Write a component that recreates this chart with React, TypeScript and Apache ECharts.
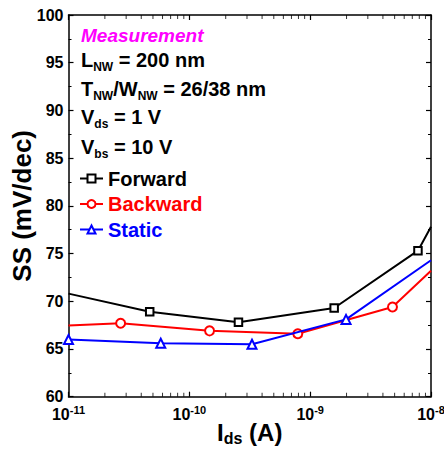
import React, { useEffect, useRef } from "react";
import * as echarts from "echarts";

const FONT = "'Liberation Sans', Arial, Helvetica, sans-serif";

const FORWARD_X = [1e-11, 4.7e-11, 2.55e-10, 1.58e-9, 7.8e-9, 1e-8];
const FORWARD_Y = [70.8, 68.9, 67.8, 69.3, 75.3, 77.8];
const BACKWARD_X = [1e-11, 2.7e-11, 1.47e-10, 7.9e-10, 4.8e-9, 1e-8];
const BACKWARD_Y = [67.45, 67.7, 66.9, 66.6, 69.4, 73.2];
const STATIC_X = [1e-11, 5.8e-11, 3.3e-10, 1.98e-9, 1e-8];
const STATIC_Y = [66.0, 65.6, 65.5, 68.1, 74.3];

// Indices of points drawn without a marker (line ends at the frame)
const FORWARD_NOMARK = [0, 5];
const BACKWARD_NOMARK = [0, 5];
const STATIC_NOMARK = [4];

const X_MIN_EXP = -11;
const X_MAX_EXP = -8;
const Y_MIN = 60;
const Y_MAX = 100;
const Y_STEP = 5;

const SERIES_NAMES = ["Forward", "Backward", "Static"];
const SERIES_COLORS = ["#000000", "#FF0000", "#0000FF"];
const SERIES_SYMBOLS = ["emptyRect", "emptyCircle", "emptyTriangle"];

const INFO_LINES = [
  "{b|L}{s|NW}{b| = 200 nm}",
  "{b|T}{s|NW}{b|/W}{s|NW}{b| = 26/38 nm}",
  "{b|V}{s|ds}{b| = 1 V}",
  "{b|V}{s|bs}{b| = 10 V}",
];
const INFO_TOPS = [50, 78.5, 107, 137];

function build(xs: number[], ys: number[], noMark: number[]) {
  return xs.map((x, i) =>
    noMark.indexOf(i) >= 0 ? { value: [x, ys[i]], symbol: "none" } : { value: [x, ys[i]] }
  );
}

// log-axis minor tick positions (2..9 x 10^n)
const minorTickX: number[] = [];
for (let n = X_MIN_EXP; n < X_MAX_EXP; n++) {
  for (let k = 2; k <= 9; k++) minorTickX.push(k * Math.pow(10, n));
}

export default function App() {
  const ref = useRef<HTMLDivElement>(null);
  useEffect(() => {
    if (!ref.current) return;
    const chart = echarts.init(ref.current, undefined, { renderer: "svg" });
    const axisLine = { show: true, lineStyle: { color: "#000", width: 1.5 } };
    const rich = {
      b: { fontSize: 20, fontWeight: "bold", fontFamily: FONT, lineHeight: 20, verticalAlign: "top", fill: "#000", color: "#000" },
      s: { fontSize: 12, fontWeight: "bold", fontFamily: FONT, lineHeight: 12, verticalAlign: "top", padding: [11, 0, 0, 0], fill: "#000", color: "#000" },
    };
    const datas = [
      build(FORWARD_X, FORWARD_Y, FORWARD_NOMARK),
      build(BACKWARD_X, BACKWARD_Y, BACKWARD_NOMARK),
      build(STATIC_X, STATIC_Y, STATIC_NOMARK),
    ];
    const tickSeries = (y: number, dir: number) => ({
      type: "scatter",
      xAxisIndex: 0,
      yAxisIndex: 0,
      silent: true,
      clip: false,
      symbol: "rect",
      symbolSize: [1, 4],
      symbolOffset: [0, dir * 2],
      itemStyle: { color: "#000" },
      data: minorTickX.map((x) => [x, y]),
      z: 1,
    });
    chart.setOption({
      animation: false,
      backgroundColor: "#fff",
      grid: { left: 68.5, right: 13, top: 15, bottom: 52.3, containLabel: false, outerBoundsMode: "none" },
      xAxis: [
        {
          type: "log",
          logBase: 10,
          min: Math.pow(10, X_MIN_EXP),
          max: Math.pow(10, X_MAX_EXP),
          position: "bottom",
          axisLine,
          axisTick: { show: true, inside: true, length: 5, lineStyle: { color: "#000", width: 1.2 } },
          splitLine: { show: false },
          axisLabel: {
            margin: 8,
            formatter: (v: number) => `{b|10}{s|${Math.round(Math.log10(v))}}`,
            rich: {
              b: { fontSize: 16, fontWeight: "bold", fontFamily: FONT, color: "#000", lineHeight: 18, verticalAlign: "bottom" },
              s: { fontSize: 11, fontWeight: "bold", fontFamily: FONT, color: "#000", lineHeight: 11, verticalAlign: "top" },
            },
          },
          name: "{b|I}{s|ds}{b| (A)}",
          nameLocation: "middle",
          nameGap: 24,
          nameMoveOverlap: false,
          nameTextStyle: {
            rich: {
              b: { fontSize: 24, fontWeight: "bold", fontFamily: FONT, color: "#000", lineHeight: 24, verticalAlign: "top" },
              s: { fontSize: 16, fontWeight: "bold", fontFamily: FONT, color: "#000", lineHeight: 16, verticalAlign: "top", padding: [10, 0, 0, 0] },
            },
          },
        },
        {
          type: "log",
          logBase: 10,
          min: Math.pow(10, X_MIN_EXP),
          max: Math.pow(10, X_MAX_EXP),
          position: "top",
          axisLine,
          axisTick: { show: true, inside: true, length: 5, lineStyle: { color: "#000", width: 1.2 } },
          axisLabel: { show: false },
          splitLine: { show: false },
        },
      ],
      yAxis: [
        {
          type: "value",
          min: Y_MIN,
          max: Y_MAX,
          interval: Y_STEP,
          position: "left",
          axisLine,
          axisTick: { show: true, inside: true, length: 5, lineStyle: { color: "#000", width: 1.2 } },
          minorTick: { show: true, splitNumber: 2, length: 3, lineStyle: { color: "#000", width: 1 } },
          splitLine: { show: false },
          axisLabel: { margin: 5, fontSize: 16, fontWeight: "bold", fontFamily: FONT, color: "#000" },
          name: "SS (mV/dec)",
          nameLocation: "middle",
          nameGap: 34,
          nameMoveOverlap: false,
          nameTextStyle: { fontSize: 26, fontWeight: "bold", fontFamily: FONT, color: "#000" },
        },
        {
          type: "value",
          min: Y_MIN,
          max: Y_MAX,
          interval: Y_STEP,
          position: "right",
          axisLine,
          axisTick: { show: true, inside: true, length: 5, lineStyle: { color: "#000", width: 1.2 } },
          minorTick: { show: true, splitNumber: 2, length: 3, lineStyle: { color: "#000", width: 1 } },
          splitLine: { show: false },
          axisLabel: { show: false },
        },
      ],
      legend: {
        orient: "vertical",
        left: 79,
        top: 168.5,
        padding: 0,
        itemGap: 5.5,
        itemWidth: 23,
        itemHeight: 10,
        textStyle: { fontSize: 20, fontWeight: "bold", fontFamily: FONT, lineHeight: 20 },
        data: SERIES_NAMES.map((n, i) => ({ name: n, textStyle: { color: SERIES_COLORS[i] } })),
      },
      series: [
        ...SERIES_NAMES.map((n, i) => ({
          name: n,
          type: "line",
          xAxisIndex: 0,
          yAxisIndex: 0,
          data: datas[i],
          symbol: SERIES_SYMBOLS[i],
          symbolSize: i === 0 ? 7.5 : 9,
          showAllSymbol: true,
          color: SERIES_COLORS[i],
          lineStyle: { color: SERIES_COLORS[i], width: 2 },
          itemStyle: { color: SERIES_COLORS[i], borderColor: SERIES_COLORS[i], borderWidth: 1.5 },
          z: 3 + i,
        })),
        tickSeries(Y_MIN, -1),
        tickSeries(Y_MAX, 1),
      ],
      graphic: [
        {
          type: "text",
          x: 81,
          y: 25.5,
          style: {
            text: "Measurement",
            fontSize: 19,
            fontWeight: "bold",
            fontStyle: "italic",
            fontFamily: FONT,
            fill: "#FF00FF",
            verticalAlign: "top",
          },
        },
        ...INFO_LINES.map((t, i) => ({
          type: "text",
          x: 81,
          y: INFO_TOPS[i],
          style: { text: t, rich, fill: "#000", verticalAlign: "top" },
        })),
      ],
    });
    return () => chart.dispose();
  }, []);
  return <div ref={ref} style={{ position: "absolute", left: 0, top: 0, width: 444, height: 449 }} />;
}
